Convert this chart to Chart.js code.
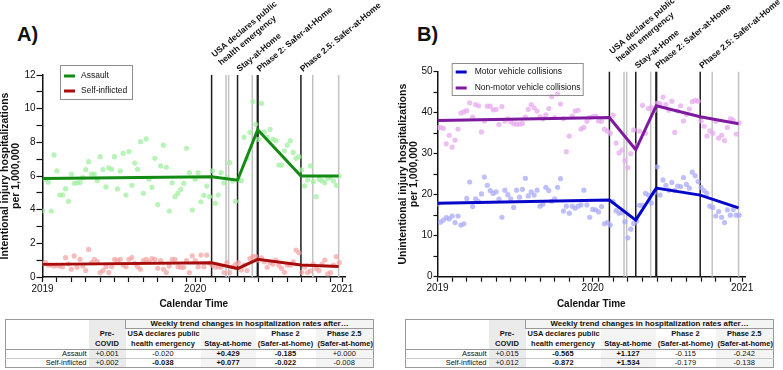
<!DOCTYPE html>
<html>
<head>
<meta charset="utf-8">
<script src="https://cdn.jsdelivr.net/npm/chart.js@4/dist/chart.umd.min.js"></script>
<style>
  body { margin: 0; width: 783px; height: 370px; position: relative; overflow: hidden; background: #fff;
         font-family: "Liberation Sans", Arial, sans-serif; color: #111; }
  canvas { position: absolute; top: 0; }
  .tag { position: absolute; top: 24px; font-size: 20px; line-height: 20px; font-weight: bold; }
  table { position: absolute; top: 319px; width: 368px; border-collapse: collapse; table-layout: fixed;
          font-size: 7.5px; border: 1px solid #9a9a9a; }
  td { padding: 0 2px; height: 8px; line-height: 8px; text-align: center; white-space: nowrap; overflow: hidden; }
  td.lab { text-align: right; }
  td.sh { background: #ebebeb; }
  td.sl { background: #f4f4f4; }
  td.b { font-weight: bold; }
  tr.hd td { height: 10px; line-height: 10px; font-weight: bold; }
  tr.top td.w { border-bottom: 1px solid #9a9a9a; border-left: 1px solid #9a9a9a; background: #f4f4f4;
                font-weight: bold; font-size: 7.9px; }
  tr.last td { border-bottom: 1px solid #9a9a9a; }
  tr.r1 td { border-bottom: 1px solid #c8c8c8; }
</style>
</head>
<body>
<div class="tag" style="left:17px">A)</div>
<div class="tag" style="left:417px">B)</div>
<canvas id="chartA" width="395" height="312" style="left:0"></canvas>
<canvas id="chartB" width="385" height="312" style="left:398px"></canvas>
<table id="tableA" style="left:5px"></table>
<table id="tableB" style="left:405px"></table>

<script>
// weekly rates, week 0 = first week of 2019
const assault = [
  3.92, 5.8, 5.63, 3.92, 7.25, 6.3, 4.87, 4.87, 5.25, 4.5,
  6.12, 5.57, 5.6, 5.62, 5.9, 6.38, 6.85, 6.12, 6.12, 5.72,
  7.15, 6.38, 5.35, 6.48, 6.4, 7.15, 5.23, 6.3, 7.35, 4.87,
  7.45, 5.45, 6.77, 6.4, 8.04, 4.97, 8.2, 5.8, 5.33, 7.05,
  4.3, 6.6, 7.83, 6.52, 3.92, 5.6, 4.77, 4.97, 5.21, 5.57,
  7.65, 6.2, 3.98, 5.8, 6.2, 4.47, 4.85, 5.4, 4.77, 6.3,
  4.38, 4.87, 6.2, 5.6, 5.9, 6.79, 5.7, 4.5, 5.8, 5.72,
  8.3, 7.05, 8.6, 10.42, 9.07, 8.18, 10.32, 8.63, 8.3, 8.77,
  8.18, 8.1, 6.65, 6.65, 7.5, 7.84, 8.1, 7.4, 7.05, 7.15,
  6.36, 5.41, 5.76, 6.6, 5.66, 4.77, 5.8, 5.72, 5.6, 5.86,
  5.92, 5.7, 5.45, 6.0
];
const selfInflicted = [
  0.81, 0.85, 0.71, 0.71, 0.65, 0.71, 0.65, 0.61, 1.15, 0.77,
  0.46, 1.25, 0.58, 1.05, 0.65, 0.38, 1.64, 0.85, 1.05, 0.91,
  0.26, 0.38, 0.61, 0.26, 0.61, 1.05, 0.97, 1.05, 0.71, 0.61,
  1.05, 1.15, 0.81, 0.61, 0.46, 0.97, 1.05, 0.9, 1.1, 1.05,
  0.52, 0.97, 0.46, 0.26, 0.65, 1.05, 1.05, 0.61, 0.58, 0.58,
  0.97, 0.26, 1.25, 0.97, 0.61, 1.3, 0.61, 1.3, 0.81, 0.7,
  0.58, 0.61, 0.58, 0.26, 0.85, 0.26, 0.61, 0.75, 0.85, 0.42,
  0.7, 0.38, 1.1, 1.21, 1.23, 1.0, 1.14, 0.9, 0.58, 0.85,
  0.77, 1.01, 0.71, 0.52, 0.28, 0.71, 0.71, 0.9, 1.6, 1.44,
  0.28, 0.6, 0.26, 0.36, 0.77, 0.5, 0.38, 0.77, 1.01, 0.18,
  0.26, 0.71, 1.21, 0.85
];
const motor = [
  17.7, 13.3, 13.8, 14.4, 14.1, 14.8, 13.2, 14.8, 12.6, 12.9,
  19.1, 23.1, 17.1, 19.0, 18.3, 20.2, 24.3, 22.3, 21.0, 20.3,
  20.7, 18.9, 14.5, 21.1, 20.0, 19.0, 16.9, 21.1, 19.4, 21.3,
  24.0, 19.7, 20.7, 19.9, 21.1, 17.2, 17.7, 21.8, 21.0, 18.4,
  19.0, 21.8, 23.9, 16.0, 17.2, 15.5, 17.2, 16.7, 17.2, 17.5,
  21.1, 17.5, 14.5, 16.4, 16.3, 15.8, 17.1, 12.9, 13.2, 12.6,
  18.3, 16.1, 15.5, 15.6, 13.4, 9.5, 11.6, 13.0, 13.6, 17.4,
  17.4, 20.3, 19.9, 18.0, 20.5, 26.8, 19.9, 23.6, 22.3, 21.1,
  23.0, 21.0, 22.1, 22.0, 24.2, 22.5, 21.6, 25.5, 24.6, 23.2,
  21.8, 21.0, 20.3, 17.2, 16.9, 14.8, 15.9, 14.5, 13.2, 16.3,
  15.0, 16.4, 15.0, 15.0
];
const nonMotor = [
  36.4, 36.4, 36.2, 32.4, 34.5, 31.6, 33.3, 36.0, 39.9, 40.2,
  40.5, 42.4, 38.9, 42.0, 41.7, 35.3, 38.0, 41.6, 41.6, 40.7,
  40.8, 37.1, 41.5, 38.0, 38.5, 37.8, 37.3, 37.2, 37.2, 37.4,
  38.9, 40.8, 42.0, 41.2, 40.4, 39.0, 38.5, 39.5, 41.0, 43.9,
  38.8, 44.6, 42.1, 38.5, 30.5, 34.3, 39.2, 40.4, 40.6, 36.0,
  36.4, 37.9, 38.8, 39.0, 39.2, 38.0, 37.9, 36.0, 35.5, 35.0,
  39.4, 32.6, 30.2, 30.9, 28.3, 26.6, 30.0, 35.8, 32.0, 35.5,
  41.8, 35.0, 41.0, 41.3, 40.5, 42.3, 42.2, 43.8, 42.0, 40.6,
  42.8, 35.2, 40.4, 41.7, 38.0, 39.6, 40.9, 42.7, 43.0, 42.8,
  38.0, 36.7, 34.3, 35.6, 35.0, 37.9, 33.8, 34.5, 33.2, 36.4,
  38.5, 38.2, 34.8, 37.5
];

// segmented regression fits (values at the break weeks)
const breakWeeks = [0, 58.7, 67.7, 74.7, 89.7, 102.8];
const assaultTrend = [5.85, 5.95, 5.75, 8.75, 6.0, 6.0];
const selfTrend = [0.75, 0.85, 0.5, 1.05, 0.72, 0.62];
const motorTrend = [17.9, 18.7, 13.8, 21.6, 19.9, 16.8];
const nonMotorTrend = [38.1, 38.8, 31.0, 41.7, 39.0, 37.3];

const eventWeeks = [58.7, 67.7, 74.7, 89.7];
const eventLabels = [['USA declares public', 'health emergency'], ['Stay-at-Home'],
  ['Phase 2: Safer-at-Home'], ['Phase 2.5: Safer-at-Home']];
const greyWeeks = [63.7, 64.6, 72.8, 93.8, 102.8];

const yearTicks = [0, 53, 104];
const yearLabels = ['2019', '2020', '2021'];
const minorTicks = [5, 10, 15, 20, 25, 30, 35, 40, 45, 50, 55, 60, 65, 70, 75, 80, 85, 90, 95, 100];

// table
const tableHead = ['Pre-|COVID', 'USA declares public|health emergency', '|Stay-at-home',
  'Phase 2|(Safer-at-home)', 'Phase 2.5|(Safer-at-home)'];
const tableRows = ['Assault', 'Self-inflicted'];
const tableA = [['+0.001', '-0.020', '+0.429', '-0.185', '+0.000'],
                ['+0.002', '-0.038', '+0.077', '-0.022', '-0.008']];
const boldA = [[0, 0, 1, 1, 0], [0, 1, 1, 1, 0]];
const tableB = [['+0.015', '-0.565', '+1.127', '-0.115', '-0.242'],
                ['+0.012', '-0.872', '+1.534', '-0.179', '-0.138']];
const boldB = [[0, 1, 1, 0, 0], [0, 1, 1, 0, 0]];

Chart.defaults.font.family = '"Liberation Sans", Arial, sans-serif';
Chart.defaults.color = '#111';

const eventLines = {
  id: 'eventLines',
  beforeDatasetsDraw(chart) {
    const { ctx, chartArea: a, scales: { x } } = chart;
    ctx.save();
    const drawAt = (w, color, lw) => {
      const px = x.getPixelForValue(w);
      ctx.strokeStyle = color;
      ctx.lineWidth = lw;
      ctx.beginPath();
      ctx.moveTo(px, a.top);
      ctx.lineTo(px, a.bottom);
      ctx.stroke();
    };
    greyWeeks.forEach(w => drawAt(w, '#c2c2c2', 1.5));
    eventWeeks.forEach((w, i) => drawAt(w, '#1c1c1c', i === 2 ? 2.2 : 1.5));
    ctx.restore();
  },
  afterDraw(chart) {
    const { ctx, chartArea: a, scales: { x } } = chart;
    ctx.save();
    ctx.fillStyle = '#111';
    ctx.font = 'bold 8.5px "Liberation Sans", Arial, sans-serif';
    ctx.textBaseline = 'alphabetic';
    eventWeeks.forEach((w, i) => {
      const lines = eventLabels[i];
      ctx.save();
      ctx.translate(x.getPixelForValue(w) + 2, a.top - 3);
      ctx.rotate(-40 * Math.PI / 180);
      lines.forEach((t, j) => ctx.fillText(t, lines.length > 1 ? 10 : 0, (j - lines.length + 1) * 10.5));
      ctx.restore();
    });
    ctx.restore();
  }
};

const legendBox = {
  id: 'legendBox',
  afterDraw(chart, args, opts) {
    const { ctx, chartArea: a } = chart;
    const bx = a.left + opts.x, by = a.top + opts.y;
    ctx.save();
    ctx.strokeStyle = '#8c8c8c';
    ctx.lineWidth = 1;
    ctx.strokeRect(bx + 0.5, by + 0.5, opts.w, opts.h);
    ctx.font = '8.5px "Liberation Sans", Arial, sans-serif';
    ctx.textBaseline = 'middle';
    ctx.fillStyle = '#111';
    chart.data.datasets.filter(d => d.inLegend).forEach((d, i) => {
      const yy = by + opts.first + i * opts.step;
      ctx.strokeStyle = d.borderColor;
      ctx.lineWidth = 3;
      ctx.beginPath();
      ctx.moveTo(bx + 4, yy);
      ctx.lineTo(bx + 15, yy);
      ctx.stroke();
      ctx.fillText(d.label, bx + opts.text, yy);
    });
    ctx.restore();
  }
};

function makeChart(id, cfg) {
  const pts = vals => vals.map((v, i) => ({ x: i, y: v }));
  const trend = vals => breakWeeks.map((w, i) => ({ x: w, y: vals[i] }));
  const datasets = [];
  cfg.names.forEach((n, k) => {
    datasets.push({ label: n, data: trend(cfg.trends[k]), showLine: true, borderColor: cfg.lines[k],
      borderWidth: 3, pointRadius: 0, tension: 0, order: 0, inLegend: true });
  });
  cfg.names.forEach((n, k) => {
    datasets.push({ label: n + ' weekly', data: pts(cfg.values[k]), backgroundColor: cfg.dots[k],
      pointRadius: 2.6, pointBorderWidth: 0, order: 1 });
  });
  return new Chart(document.getElementById(id), {
    type: 'scatter',
    data: { datasets },
    options: {
      responsive: false,
      animation: false,
      devicePixelRatio: 1,
      layout: { padding: cfg.pad },
      plugins: {
        legend: { display: false },
        tooltip: { enabled: false },
        legendBox: cfg.legend
      },
      scales: {
        x: {
          type: 'linear', min: 0, max: 105,
          afterFit: s => { s.height = cfg.xh; },
          afterBuildTicks: s => { s.ticks = yearTicks.concat(minorTicks).map(v => ({ value: v })); },
          ticks: {
            autoSkip: false, maxRotation: 0, padding: 1, color: '#111', font: { size: 10 },
            callback: v => { const k = yearTicks.indexOf(v); return k >= 0 ? yearLabels[k] : ''; }
          },
          grid: { drawOnChartArea: false, tickLength: 5, tickColor: '#111', tickWidth: 1.2 },
          border: { color: '#111', width: 1.5 },
          title: { display: true, text: 'Calendar Time', color: '#111',
            font: { size: 10, weight: 'bold' }, padding: { top: 0, bottom: 2 } }
        },
        y: {
          min: 0, max: cfg.ymax,
          afterFit: s => { s.width = cfg.yw; },
          ticks: {
            stepSize: cfg.minor, padding: 1, color: '#111', font: { size: 10 },
            callback: v => (v % cfg.major === 0 ? v : '')
          },
          grid: { drawOnChartArea: false, tickLength: cfg.tick, tickColor: '#111', tickWidth: 1.2 },
          border: { color: '#111', width: 1.5 },
          title: { display: true, text: cfg.ytitle, color: '#111',
            font: { size: 10.5, weight: 'bold', lineHeight: 1 }, padding: { top: 0, bottom: 0 } }
        }
      }
    },
    plugins: [eventLines, legendBox]
  });
}

makeChart('chartA', {
  names: ['Assault', 'Self-inflicted'],
  values: [assault, selfInflicted],
  trends: [assaultTrend, selfTrend],
  lines: ['#138a13', '#a80d0d'],
  dots: ['rgba(160,240,160,0.75)', 'rgba(245,160,160,0.7)'],
  ytitle: ['Intentional injury hospitalizations', 'per 1,000,000'],
  ymax: 12, minor: 1, major: 2, tick: 6,
  yw: 42.5, xh: 35,
  pad: { top: 75, right: 50, left: 0, bottom: 0 },
  legend: { x: 17.5, y: -10, w: 72, h: 34, first: 11, step: 15, text: 21 }
});

makeChart('chartB', {
  names: ['Motor vehicle collisions', 'Non-motor vehicle collisions'],
  values: [motor, nonMotor],
  trends: [motorTrend, nonMotorTrend],
  lines: ['#0606c8', '#7d1a9e'],
  dots: ['rgba(170,170,250,0.75)', 'rgba(232,170,240,0.75)'],
  ytitle: ['Unintentional injury hospitalizations', 'per 1,000,000'],
  ymax: 50, minor: 5, major: 10, tick: 4,
  yw: 39.5, xh: 35.3,
  pad: { top: 71.7, right: 38, left: 0, bottom: 0 },
  legend: { x: 14.2, y: -8.7, w: 131, h: 32, first: 9, step: 16, text: 23 }
});

function buildTable(id, values, bold) {
  const shade = ['sh', '', 'sl', '', 'sl'];
  let html = '<colgroup><col style="width:83px"><col style="width:37px"><col style="width:75px">' +
    '<col style="width:55px"><col style="width:60px"><col style="width:58px"></colgroup>';
  html += '<tr class="top"><td></td><td class="sh"></td>' +
    '<td class="w" colspan="4">Weekly trend changes in hospitalization rates after\u2026</td></tr>';
  [0, 1].forEach(line => {
    html += '<tr class="hd' + (line === 1 ? ' last' : '') + '"><td></td>';
    tableHead.forEach((h, c) => { html += '<td class="' + shade[c] + '">' + h.split('|')[line] + '</td>'; });
    html += '</tr>';
  });
  tableRows.forEach((r, ri) => {
    html += '<tr class="' + (ri === 0 ? 'r1' : '') + '"><td class="lab">' + r + '</td>';
    values[ri].forEach((v, c) => {
      html += '<td class="' + shade[c] + (bold[ri][c] ? ' b' : '') + '">' + v + '</td>';
    });
    html += '</tr>';
  });
  document.getElementById(id).innerHTML = html;
}
buildTable('tableA', tableA, boldA);
buildTable('tableB', tableB, boldB);
</script>
</body>
</html>
